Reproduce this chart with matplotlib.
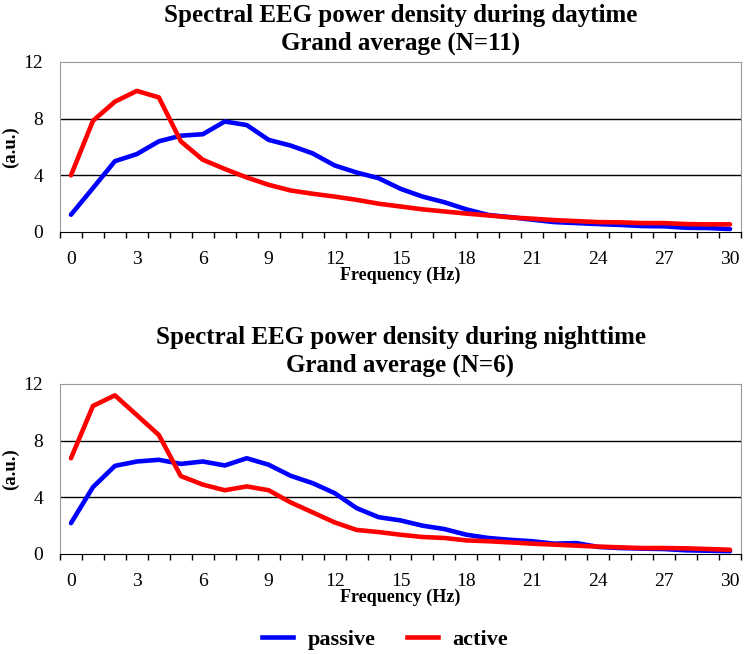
import numpy as np
import matplotlib
matplotlib.use("Agg")
import matplotlib.pyplot as plt
from matplotlib.lines import Line2D

plt.rcParams['font.family'] = ['Liberation Serif', 'DejaVu Serif']

freq = list(range(31))
xtick_vals = list(range(0, 31, 3))

day_passive = [1.22, 3.1, 5.0, 5.5, 6.4, 6.8, 6.9, 7.8, 7.55, 6.5, 6.1, 5.55, 4.7, 4.2, 3.8,
               3.05, 2.5, 2.1, 1.6, 1.2, 1.05, 0.87, 0.7, 0.63, 0.56, 0.5, 0.42, 0.4, 0.3, 0.28, 0.21]
day_active = [4.0, 7.85, 9.2, 9.96, 9.5, 6.4, 5.1, 4.45, 3.85, 3.33, 2.93, 2.7, 2.5, 2.27, 2.0,
              1.8, 1.6, 1.45, 1.3, 1.17, 1.03, 0.94, 0.84, 0.77, 0.7, 0.68, 0.63, 0.63, 0.56, 0.54, 0.54]

night_passive = [2.18, 4.72, 6.22, 6.53, 6.65, 6.36, 6.53, 6.25, 6.76, 6.3, 5.52, 5.0, 4.3, 3.24, 2.6,
                 2.37, 2.0, 1.76, 1.36, 1.13, 1.0, 0.9, 0.73, 0.77, 0.5, 0.42, 0.38, 0.35, 0.26, 0.23, 0.2]
night_active = [6.76, 10.45, 11.2, 9.8, 8.4, 5.5, 4.9, 4.5, 4.77, 4.5, 3.64, 2.94, 2.23, 1.7, 1.55,
                1.36, 1.2, 1.13, 0.96, 0.9, 0.82, 0.73, 0.66, 0.59, 0.52, 0.47, 0.42, 0.42, 0.4, 0.35, 0.3]

titles = ["Spectral EEG power density during daytime\nGrand average (N=11)",
          "Spectral EEG power density during nighttime\nGrand average (N=6)"]

fig = plt.figure(figsize=(7.45, 6.54), dpi=100)
ax1 = fig.add_axes([60/745, 1-232/654, 681/745, 170/654])
ax2 = fig.add_axes([60/745, 1-554/654, 681/745, 170/654])

for ax, passive, active, title in [(ax1, day_passive, day_active, titles[0]),
                                   (ax2, night_passive, night_active, titles[1])]:
    for y in [4, 8]:
        ax.axhline(y, color='black', lw=1, zorder=1)
    ax.plot(freq, passive, color='#0000ff', lw=3.3, solid_capstyle='round', zorder=3)
    ax.plot(freq, active, color='#ff0000', lw=3.3, solid_capstyle='round', zorder=3)
    ax.set_xlim(-0.5, 30.5)
    ax.set_ylim(0, 12)
    ax.set_yticks([0, 4, 8, 12])
    ax.tick_params(axis='y', length=0, labelsize=14, pad=12)
    # category boundaries carry the tick marks, labels sit on the categories
    ax.set_xticks(np.arange(-0.5, 31, 1))
    ax.set_xticklabels([])
    ax.tick_params(axis='x', which='major', direction='out', length=4, width=1)
    ax.set_xticks(xtick_vals, minor=True)
    ax.set_xticklabels([str(v) for v in xtick_vals], minor=True, fontsize=14)
    ax.tick_params(axis='x', which='minor', length=0, pad=14)
    for s in ['top', 'right', 'left']:
        ax.spines[s].set_color('#9a9a9a')
    ax.spines['bottom'].set_color('black')
    ax.set_xlabel("Frequency (Hz)", fontsize=13, fontweight='bold', labelpad=-1)
    ax.set_ylabel("(a.u.)", fontsize=13.5, fontweight='bold')
    ax.yaxis.set_label_coords(-0.06, 0.5)
    ax.set_title(title, fontsize=18, fontweight='bold', linespacing=1.25, pad=9)

handles = [Line2D([0], [0], color='#0000ff', lw=3.3),
           Line2D([0], [0], color='#ff0000', lw=3.3)]
fig.legend(handles, ["passive", "active"], loc='center', bbox_to_anchor=(385/745, 1-640/654),
           ncol=2, frameon=False, prop={'weight': 'bold', 'size': 16},
           handlelength=1.4, handletextpad=0.65, columnspacing=1.4)

fig.savefig("out.png", dpi=100)
